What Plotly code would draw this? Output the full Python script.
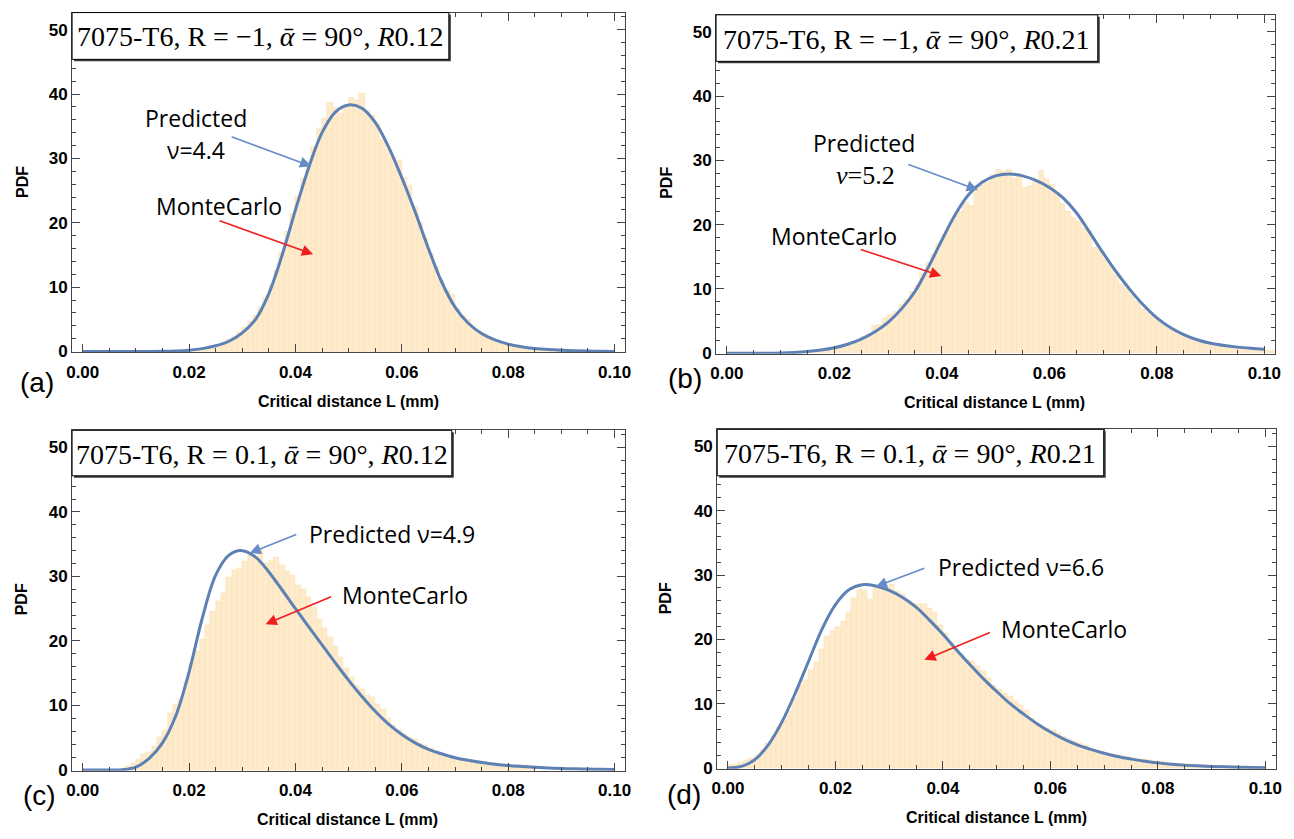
import plotly.graph_objects as go

W, H = 1294, 839

# ---------------------------------------------------------------- data
BIN_WIDTH = 0.001  # mm

# Monte Carlo histogram densities, one value per 0.001 mm bin
HIST_A_START = 0.020
HIST_A = [0.2, 0.3, 0.4, 0.6, 0.8, 1.1, 1.4, 1.9, 2.4, 3.0,
          3.8, 4.6, 5.6, 6.9, 8.4, 10.2, 12.6, 15.4, 18.6, 21.5,
          24.0, 26.8, 29.5, 31.8, 34.6, 36.2, 38.6, 37.9, 37.0, 38.2,
          39.4, 39.0, 40.0, 37.4, 36.6, 35.3, 33.0, 31.4, 30.2, 29.6,
          27.0, 25.8, 22.5, 20.0, 17.6, 15.2, 13.2, 11.0, 9.4, 8.9,
          6.6, 5.6, 4.9, 3.8, 3.1, 2.6, 2.0, 1.9, 1.3, 1.1,
          0.9, 0.7, 0.6, 0.45, 0.35, 0.3, 0.2, 0.15, 0.1, 0.1]

HIST_B_START = 0.014
HIST_B = [0.2, 0.3, 0.4, 0.5, 0.6, 0.8, 1.0, 1.2, 1.5, 1.8,
          2.1, 2.5, 3.0, 4.2, 4.4, 5.5, 6.0, 6.5, 7.6, 8.3,
          9.6, 10.5, 12.3, 14.0, 15.3, 17.0, 18.4, 19.6, 21.3, 22.0,
          23.4, 23.0, 25.6, 26.0, 26.5, 27.7, 28.5, 28.3, 28.6, 27.2,
          27.8, 25.8, 26.0, 26.6, 28.4, 27.2, 26.2, 25.0, 23.2, 22.0,
          21.0, 20.4, 19.3, 19.1, 16.4, 16.0, 14.6, 13.6, 12.0, 10.6,
          10.0, 8.9, 8.0, 6.8, 6.3, 5.8, 5.1, 4.2, 3.6, 3.3,
          3.0, 2.5, 2.1, 1.9, 1.7, 1.4, 1.3, 1.1, 1.0, 0.9,
          0.8, 0.7, 0.6, 0.6, 0.5, 0.5, 0.4, 0.4]

HIST_C_START = 0.008
HIST_C = [0.6, 1.0, 1.6, 2.4, 2.8, 3.6, 5.0, 6.2, 8.8, 10.2,
          11.0, 13.8, 16.5, 18.4, 20.3, 22.5, 24.6, 26.1, 27.4, 29.8,
          31.0, 31.2, 32.4, 33.2, 33.0, 34.2, 32.0, 32.5, 33.0, 31.8,
          30.8, 30.2, 28.6, 28.0, 26.8, 25.2, 23.4, 22.0, 20.6, 19.2,
          17.4, 15.8, 14.3, 13.2, 12.5, 11.6, 11.3, 10.2, 9.4, 8.0,
          7.0, 6.2, 5.6, 5.1, 4.8, 4.2, 3.8, 3.4, 2.9, 2.6,
          2.2, 2.0, 1.8, 1.6, 1.5, 1.4, 1.3, 1.2, 1.1, 1.0,
          0.9, 0.9, 0.8, 0.8, 0.7, 0.7, 0.6]

HIST_D_START = 0.000
HIST_D = [0.4, 0.6, 0.9, 1.2, 1.5, 2.0, 2.8, 3.8, 5.0, 6.4,
          7.4, 8.8, 10.8, 12.9, 13.6, 15.2, 16.4, 18.5, 20.4, 21.2,
          21.8, 22.8, 24.2, 26.4, 27.7, 27.6, 26.2, 27.9, 28.2, 28.0,
          28.5, 27.5, 27.0, 26.0, 25.6, 25.4, 25.4, 24.8, 24.2, 22.2,
          21.0, 19.6, 18.4, 17.6, 16.8, 16.6, 15.8, 15.0, 14.0, 12.8,
          12.2, 11.6, 11.2, 10.4, 9.8, 8.9, 7.8, 7.0, 6.5, 6.1,
          5.8, 5.4, 5.0, 4.5, 4.1, 3.8, 3.5, 3.1, 2.8, 2.5,
          2.3, 2.1, 1.9, 1.8, 1.6, 1.5, 1.4, 1.3, 1.2, 1.1,
          1.0, 0.9, 0.8, 0.7, 0.6, 0.55, 0.5, 0.45, 0.4, 0.35,
          0.3, 0.3, 0.25, 0.25, 0.2, 0.2, 0.2, 0.15, 0.15, 0.15]

# Predicted PDF, sampled every 0.0025 mm from 0 to 0.1
CURVE_L = [round(i * 0.0025, 4) for i in range(41)]
PRED_A = [0, 0, 0, 0, 0, 0.01, 0.03, 0.08, 0.2, 0.45,
          0.9, 1.6, 2.9, 5.0, 9.0, 15.0, 22.0, 28.6, 34.0, 37.2,
          38.3, 37.8, 35.6, 31.8, 27.0, 21.7, 16.0, 10.8, 6.9, 4.4,
          2.8, 1.8, 1.15, 0.75, 0.48, 0.3, 0.19, 0.12, 0.07, 0.04, 0.02]
PRED_B = [0, 0, 0, 0.01, 0.05, 0.13, 0.27, 0.5, 0.85, 1.4,
          2.2, 3.3, 4.8, 6.9, 9.6, 13.4, 17.6, 21.6, 24.7, 26.6,
          27.6, 27.9, 27.6, 26.9, 25.8, 24.2, 21.9, 18.8, 15.6, 12.6,
          9.9, 7.5, 5.5, 4.0, 2.9, 2.1, 1.55, 1.2, 0.95, 0.77, 0.63]
PRED_C = [0, 0, 0, 0.05, 0.45, 1.8, 4.2, 8.4, 15.2, 23.6,
          30.2, 33.3, 34.0, 33.0, 30.7, 27.9, 25.0, 22.2, 19.4, 16.6,
          13.9, 11.4, 9.1, 7.1, 5.5, 4.2, 3.2, 2.5, 1.9, 1.5,
          1.15, 0.9, 0.7, 0.55, 0.42, 0.32, 0.24, 0.18, 0.14, 0.1, 0.08]
PRED_D = [0, 0.25, 1.3, 3.6, 7.1, 11.6, 16.6, 21.6, 25.4, 27.7,
          28.5, 28.3, 27.6, 26.5, 25.0, 23.0, 20.8, 18.4, 16.1, 13.9,
          11.9, 10.0, 8.4, 6.9, 5.6, 4.5, 3.6, 2.9, 2.3, 1.8,
          1.4, 1.05, 0.8, 0.6, 0.45, 0.34, 0.25, 0.18, 0.13, 0.09, 0.06]

TITLES = [
    "7075-T6, R = \u22121, <i>\u1fb1</i> = 90\u00b0, <i>R</i>0.12",
    "7075-T6, R = \u22121, <i>\u1fb1</i> = 90\u00b0, <i>R</i>0.21",
    "7075-T6, R = 0.1, <i>\u1fb1</i> = 90\u00b0, <i>R</i>0.12",
    "7075-T6, R = 0.1, <i>\u1fb1</i> = 90\u00b0, <i>R</i>0.21",
]
PANEL_TAGS = ["(a)", "(b)", "(c)", "(d)"]
X_TITLE = "Critical distance L (mm)"
Y_TITLE = "PDF"

# ---------------------------------------------------------------- styles
BLUE = "rgb(94,129,181)"
ARROW_BLUE = "rgb(100,140,200)"
RED = "rgb(240,30,30)"
BAR_FILL = "rgb(254,235,204)"
BAR_EDGE = "rgb(252,224,182)"
FRAME = "rgb(70,70,70)"
SANS = "Liberation Sans, Arial, sans-serif"
SERIF = "Liberation Serif, Times New Roman, serif"
NOTE = "Open Sans, Liberation Sans, sans-serif"


def px(x):
    return x / W


def py(y):
    return 1 - y / H


# panel frames in pixels: (left, top, right, bottom)
FRAMES = [(66.7, 12.7, 625, 356),
          (716.7, 15, 1281, 357.7),
          (66.7, 435, 625, 779),
          (717.9, 434, 1282, 777)]
TITLE_BOXES = [(66.7, 12.7, 447, 60), (716.7, 15, 1102, 62),
               (66.7, 435, 450, 481), (717.9, 434, 1108, 481)]
TAG_POS = [(31, 387), (685, 383), (34, 804), (684, 803)]
XT_POS = [(346, 406), (998, 407), (345, 828), (1000, 826)]
YT_POS = [(16, 184), (666, 185), (16, 606), (666, 605)]

hists = [(HIST_A_START, HIST_A), (HIST_B_START, HIST_B),
         (HIST_C_START, HIST_C), (HIST_D_START, HIST_D)]
preds = [PRED_A, PRED_B, PRED_C, PRED_D]

fig = go.Figure()
layout = dict(width=W, height=H, margin=dict(l=0, r=0, t=0, b=0),
              paper_bgcolor="white", plot_bgcolor="white",
              showlegend=False, bargap=0)

shapes = []
annotations = []

for i in range(4):
    n = i + 1
    xa = "x" if n == 1 else f"x{n}"
    ya = "y" if n == 1 else f"y{n}"
    start, vals = hists[i]
    centers = [start + (k + 0.5) * BIN_WIDTH for k in range(len(vals))]
    fig.add_trace(go.Bar(x=centers, y=vals, width=BIN_WIDTH,
                         marker=dict(color=BAR_FILL,
                                     line=dict(color=BAR_EDGE, width=0.6)),
                         xaxis=xa, yaxis=ya, hoverinfo="skip"))
    fig.add_trace(go.Scatter(x=CURVE_L, y=preds[i], mode="lines",
                             line=dict(color=BLUE, width=3, shape="spline",
                                       smoothing=1.0),
                             xaxis=xa, yaxis=ya, hoverinfo="skip"))

    l, t, r, b = FRAMES[i]
    axis_common = dict(showline=True, linecolor=FRAME, linewidth=1,
                       mirror="ticks", ticks="inside", tickcolor=FRAME,
                       ticklen=8, tickwidth=1, showgrid=False,
                       zeroline=False,
                       tickfont=dict(family=SANS, size=17, color="black",
                                     weight="bold"))
    layout["xaxis" if n == 1 else f"xaxis{n}"] = dict(
        axis_common, domain=[px(l), px(r)], range=[-0.002, 0.102],
        anchor=ya, tick0=0, dtick=0.02, tickformat=".2f",
        ticklabelstandoff=4,
        minor=dict(dtick=0.005, ticks="inside", ticklen=4,
                   tickcolor=FRAME, showgrid=False))
    layout["yaxis" if n == 1 else f"yaxis{n}"] = dict(
        axis_common, domain=[py(b), py(t)], range=[-0.1, 52.65],
        anchor=xa, tick0=0, dtick=10,
        minor=dict(dtick=2, ticks="inside", ticklen=4,
                   tickcolor=FRAME, showgrid=False))

    # title box with drop shadow
    bl, bt, br, bb = TITLE_BOXES[i]
    shapes.append(dict(type="rect", xref="paper", yref="paper",
                       x0=px(bl + 2), x1=px(br + 2), y0=py(bb + 2),
                       y1=py(bt + 2), fillcolor="rgb(60,60,60)",
                       line=dict(width=0)))
    shapes.append(dict(type="rect", xref="paper", yref="paper",
                       x0=px(bl), x1=px(br), y0=py(bb), y1=py(bt),
                       fillcolor="white", line=dict(color="black", width=1)))
    annotations.append(dict(xref="paper", yref="paper",
                            x=px((bl + br) / 2), y=py((bt + bb) / 2 + 1),
                            text=TITLES[i], showarrow=False,
                            xanchor="center", yanchor="middle",
                            font=dict(family=SERIF, size=28, color="black")))

    tx, ty = TAG_POS[i]
    annotations.append(dict(xref="paper", yref="paper", x=px(tx), y=py(ty),
                            text=PANEL_TAGS[i], showarrow=False,
                            xanchor="center", yanchor="middle",
                            font=dict(family=SANS, size=28, color="black")))
    xx, xy = XT_POS[i]
    annotations.append(dict(xref="paper", yref="paper", x=px(xx), y=py(xy),
                            text=X_TITLE, showarrow=False,
                            xanchor="center", yanchor="middle",
                            font=dict(family=SANS, size=16, color="black",
                                      weight="bold")))
    yx, yy = YT_POS[i]
    annotations.append(dict(xref="paper", yref="paper", x=px(yx), y=py(yy),
                            text=Y_TITLE, showarrow=False, textangle=-90,
                            xanchor="center", yanchor="middle",
                            font=dict(family=SANS, size=16, color="black",
                                      weight="bold")))


def note(x, y, text, family=NOTE, size=23):
    annotations.append(dict(xref="paper", yref="paper", x=px(x), y=py(y),
                            text=text, showarrow=False, xanchor="center",
                            yanchor="middle",
                            font=dict(family=family, size=size,
                                      color="black")))


def arrow(tail, head, color):
    annotations.append(dict(xref="paper", yref="paper",
                            x=px(head[0]), y=py(head[1]), text="",
                            showarrow=True, ax=tail[0] - head[0],
                            ay=tail[1] - head[1], arrowhead=2,
                            arrowsize=1.4, arrowwidth=1.6,
                            arrowcolor=color, standoff=0))


# panel (a)
note(192, 119, "Predicted")
note(192, 152, "\u03bd=4.4")
arrow((227, 138), (308, 168), ARROW_BLUE)
note(215, 208, "MonteCarlo")
arrow((215, 223), (310, 257), RED)
# panel (b)
note(866, 145, "Predicted")
note(868, 177, "<i>\u03bd</i>=5.2", family=SERIF, size=26)
arrow((910, 166), (981, 192), ARROW_BLUE)
note(836, 239, "MonteCarlo")
arrow((862, 252), (944, 279), RED)
# panel (c)
note(390, 540, "Predicted \u03bd=4.9")
arrow((294, 540), (246, 559), ARROW_BLUE)
note(403, 601, "MonteCarlo")
arrow((329, 603), (262, 631), RED)
# panel (d)
note(1025, 573, "Predicted \u03bd=6.6")
arrow((928, 574), (878, 593), ARROW_BLUE)
note(1068, 636, "MonteCarlo")
arrow((994, 639), (927, 667), RED)

layout["shapes"] = shapes
layout["annotations"] = annotations
fig.update_layout(**layout)
fig.write_html("out.html")
